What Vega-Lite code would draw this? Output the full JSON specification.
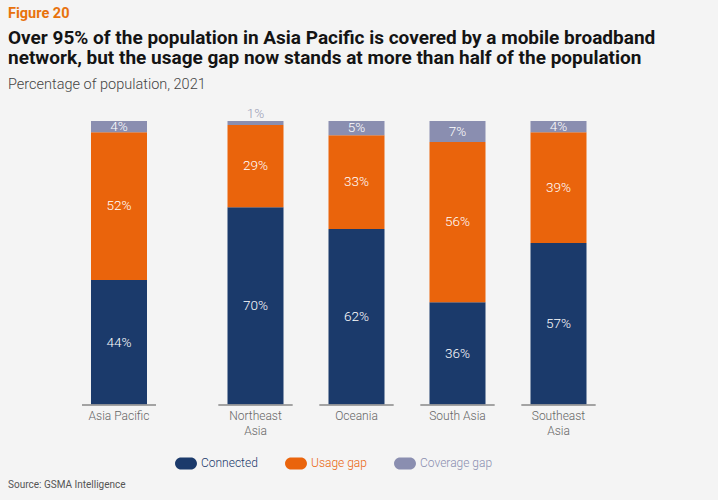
{
  "$schema": "https://vega.github.io/schema/vega-lite/v6.json",
  "background": "#f4f4f4",
  "padding": {"left": 8, "top": 5, "right": 109.5, "bottom": 16},
  "title": {
    "text": "Figure 20",
    "subtitle": ["Over 95% of the population in Asia Pacific is covered by a mobile broadband", "network, but the usage gap now stands at more than half of the population"],
    "anchor": "start",
    "font": "Roboto",
    "fontSize": 14.5,
    "fontWeight": "bold",
    "color": "#e8720c",
    "subtitleFont": "Roboto",
    "subtitleFontSize": 19,
    "subtitleFontWeight": "bold",
    "subtitleColor": "#141414",
    "subtitleLineHeight": 20.5,
    "subtitlePadding": 7.5,
    "offset": 8
  },
  "data": {
    "values": [
      {"region": "Asia Pacific", "segment": "Connected", "value": 44},
      {"region": "Asia Pacific", "segment": "Usage gap", "value": 52},
      {"region": "Asia Pacific", "segment": "Coverage gap", "value": 4},
      {"region": "Northeast Asia", "segment": "Connected", "value": 69.6},
      {"region": "Northeast Asia", "segment": "Usage gap", "value": 29},
      {"region": "Northeast Asia", "segment": "Coverage gap", "value": 1.4},
      {"region": "Oceania", "segment": "Connected", "value": 62},
      {"region": "Oceania", "segment": "Usage gap", "value": 33},
      {"region": "Oceania", "segment": "Coverage gap", "value": 5},
      {"region": "South Asia", "segment": "Connected", "value": 36.2},
      {"region": "South Asia", "segment": "Usage gap", "value": 56.4},
      {"region": "South Asia", "segment": "Coverage gap", "value": 7.4},
      {"region": "Southeast Asia", "segment": "Connected", "value": 57},
      {"region": "Southeast Asia", "segment": "Usage gap", "value": 39},
      {"region": "Southeast Asia", "segment": "Coverage gap", "value": 4}
    ]
  },
  "vconcat": [
    {
      "title": {"text": "Source: GSMA Intelligence", "orient": "bottom", "anchor": "start", "font": "Roboto", "fontSize": 10, "fontWeight": "normal", "color": "#555555", "offset": 44},
      "vconcat": [
        {
          "title": {"text": "Percentage of population, 2021", "anchor": "start", "font": "Roboto", "fontSize": 14.5, "fontWeight": 300, "color": "#444444", "offset": 14},
          "spacing": 35,
          "hconcat": [
            {
              "width": 161.5,
              "height": 284,
              "transform": [
                {"filter": "datum.region == 'Asia Pacific'"},
                {"calculate": "indexof(['Connected','Usage gap','Coverage gap'], datum.segment)", "as": "ord"},
                {"stack": "value", "groupby": ["region"], "sort": [{"field": "ord", "order": "ascending"}], "as": ["y0", "y1"]},
                {"calculate": "datum.value < 2 ? datum.y1 + 2.5 : (datum.y0 + datum.y1) / 2", "as": "ymid"},
                {"calculate": "format(datum.value, '.0f') + '%'", "as": "label"}
              ],
              "encoding": {
                "x": {
                  "field": "region", "type": "nominal", "title": null,
                  "scale": {"paddingInner": 0, "paddingOuter": 0.2995, "align": 1},
                  "axis": {"domain": false, "ticks": false, "labelAngle": 0, "labelPadding": 5, "labelFont": "Roboto", "labelFontSize": 12, "labelColor": "#666666", "labelFontWeight": 300, "labelLineHeight": 15,
                    "labelExpr": "datum.label == 'Northeast Asia' || datum.label == 'Southeast Asia' ? split(datum.label, ' ') : datum.label"}
                }
              },
              "layer": [
                {
                  "mark": {"type": "bar", "width": 56},
                  "encoding": {
                    "y": {"field": "y0", "type": "quantitative", "scale": {"domain": [0, 100]}, "axis": null},
                    "y2": {"field": "y1"},
                    "color": {"field": "segment", "type": "nominal", "scale": {"domain": ["Connected", "Usage gap", "Coverage gap"], "range": ["#1b3a6b", "#ea640c", "#8a8eb0"]},
                      "legend": {"orient": "none", "legendX": 167, "legendY": 331, "direction": "horizontal", "title": null, "columnPadding": 27, "gridAlign": "each",
                        "symbolType": "M-1,-0.55 L0.45,-0.55 A0.55,0.55 0 0 1 0.45,0.55 L-0.45,0.55 A0.55,0.55 0 0 1 -0.45,-0.55 Z",
                        "symbolSize": 480, "symbolStrokeWidth": 0, "labelFont": "Roboto", "labelFontSize": 12, "labelFontWeight": 300, "labelOffset": 4,
                        "encode": {"labels": {"update": {"fill": {"signal": "scale('color', datum.value)"}}}}}}
                  }
                },
                {
                  "mark": {"type": "tick", "orient": "horizontal", "size": 74, "thickness": 1.3, "color": "#9a9a9a"},
                  "encoding": {"y": {"datum": 0, "type": "quantitative"}}
                },
                {
                  "mark": {"type": "text", "font": "Roboto", "fontSize": 13.5, "fontWeight": 300, "baseline": "middle"},
                  "encoding": {
                    "y": {"field": "ymid", "type": "quantitative"},
                    "text": {"field": "label"},
                    "color": {"condition": {"test": "datum.value < 2", "value": "#9a9cb4"}, "value": "#ffffff"}
                  }
                }
              ]
            },
            {
              "width": 404,
              "height": 284,
              "transform": [
                {"filter": "datum.region != 'Asia Pacific'"},
                {"calculate": "indexof(['Connected','Usage gap','Coverage gap'], datum.segment)", "as": "ord"},
                {"stack": "value", "groupby": ["region"], "sort": [{"field": "ord", "order": "ascending"}], "as": ["y0", "y1"]},
                {"calculate": "datum.value < 2 ? datum.y1 + 2.5 : (datum.y0 + datum.y1) / 2", "as": "ymid"},
                {"calculate": "format(datum.value, '.0f') + '%'", "as": "label"}
              ],
              "encoding": {
                "x": {
                  "field": "region", "type": "nominal", "title": null,
                  "scale": {"paddingInner": 0, "paddingOuter": 0},
                  "axis": {"domain": false, "ticks": false, "labelAngle": 0, "labelPadding": 5, "labelFont": "Roboto", "labelFontSize": 12, "labelColor": "#666666", "labelFontWeight": 300, "labelLineHeight": 15,
                    "labelExpr": "datum.label == 'Northeast Asia' || datum.label == 'Southeast Asia' ? split(datum.label, ' ') : datum.label"}
                }
              },
              "layer": [
                {
                  "mark": {"type": "bar", "width": 56},
                  "encoding": {
                    "y": {"field": "y0", "type": "quantitative", "scale": {"domain": [0, 100]}, "axis": null},
                    "y2": {"field": "y1"},
                    "color": {"field": "segment", "type": "nominal", "scale": {"domain": ["Connected", "Usage gap", "Coverage gap"], "range": ["#1b3a6b", "#ea640c", "#8a8eb0"]},
                      "legend": {"orient": "none", "legendX": 167, "legendY": 331, "direction": "horizontal", "title": null, "columnPadding": 27, "gridAlign": "each",
                        "symbolType": "M-1,-0.55 L0.45,-0.55 A0.55,0.55 0 0 1 0.45,0.55 L-0.45,0.55 A0.55,0.55 0 0 1 -0.45,-0.55 Z",
                        "symbolSize": 480, "symbolStrokeWidth": 0, "labelFont": "Roboto", "labelFontSize": 12, "labelFontWeight": 300, "labelOffset": 4,
                        "encode": {"labels": {"update": {"fill": {"signal": "scale('color', datum.value)"}}}}}}
                  }
                },
                {
                  "mark": {"type": "tick", "orient": "horizontal", "size": 74, "thickness": 1.3, "color": "#9a9a9a"},
                  "encoding": {"y": {"datum": 0, "type": "quantitative"}}
                },
                {
                  "mark": {"type": "text", "font": "Roboto", "fontSize": 13.5, "fontWeight": 300, "baseline": "middle"},
                  "encoding": {
                    "y": {"field": "ymid", "type": "quantitative"},
                    "text": {"field": "label"},
                    "color": {"condition": {"test": "datum.value < 2", "value": "#9a9cb4"}, "value": "#ffffff"}
                  }
                }
              ]
            }
          ]
        }
      ]
    }
  ],
  "config": {"view": {"stroke": null}}
}
